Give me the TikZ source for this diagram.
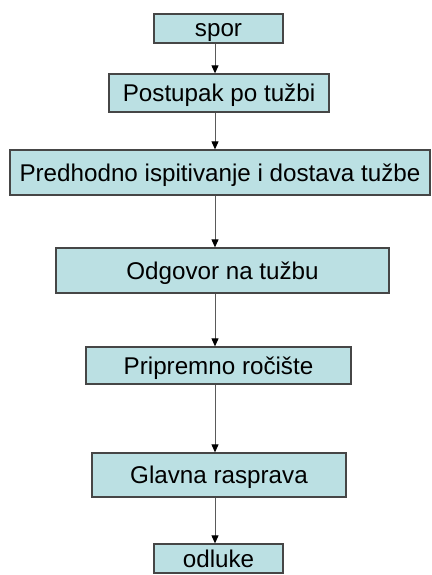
\documentclass[tikz,border=0pt]{standalone}
\usepackage{fontspec}
\setmainfont{Liberation Sans}
\usetikzlibrary{arrows.meta}
\definecolor{boxfill}{RGB}{187,224,227}
\definecolor{boxline}{RGB}{70,70,70}
\definecolor{arrline}{RGB}{90,90,90}
\begin{document}
\begin{tikzpicture}[x=1pt,y=-1pt,
  stepbox/.style={draw=boxline,line width=1.3pt,fill=boxfill,rectangle,inner sep=0pt,
    text height=21.7pt,text depth=4.7pt,
    font=\fontsize{24.2}{28}\selectfont},
  arr/.style={draw=arrline,line width=1pt,-{Triangle[width=7pt,length=8pt,color=black]}}]
\useasboundingbox (0,0) rectangle (431,575);
\coordinate (ax) at (215,0);
\node[stepbox,minimum width=129pt,minimum height=29pt] (spor) at (218.5,28.5) {spor};
\node[stepbox,minimum width=220pt,minimum height=38pt] (post) at (219,93) {Postupak po tužbi};
\node[stepbox,minimum width=420pt,minimum height=45pt] (pred) at (220,172.5) {Predhodno ispitivanje i dostava tužbe};
\node[stepbox,minimum width=333pt,minimum height=45pt] (odg) at (222.5,270.5) {Odgovor na tužbu};
\node[stepbox,minimum width=265pt,minimum height=37pt] (prip) at (218.5,365.5) {Pripremno ročište};
\node[stepbox,minimum width=254pt,minimum height=44pt] (glav) at (219,475) {Glavna rasprava};
\node[stepbox,minimum width=129pt,minimum height=29pt] (odl) at (218.5,558.5) {odluke};
\draw[arr] (spor.south -| ax) -- (post.north -| ax);
\draw[arr] (post.south -| ax) -- (pred.north -| ax);
\draw[arr] (pred.south -| ax) -- (odg.north -| ax);
\draw[arr] (odg.south -| ax) -- (prip.north -| ax);
\draw[arr] (prip.south -| ax) -- (glav.north -| ax);
\draw[arr] (glav.south -| ax) -- (odl.north -| ax);
\end{tikzpicture}
\end{document}
